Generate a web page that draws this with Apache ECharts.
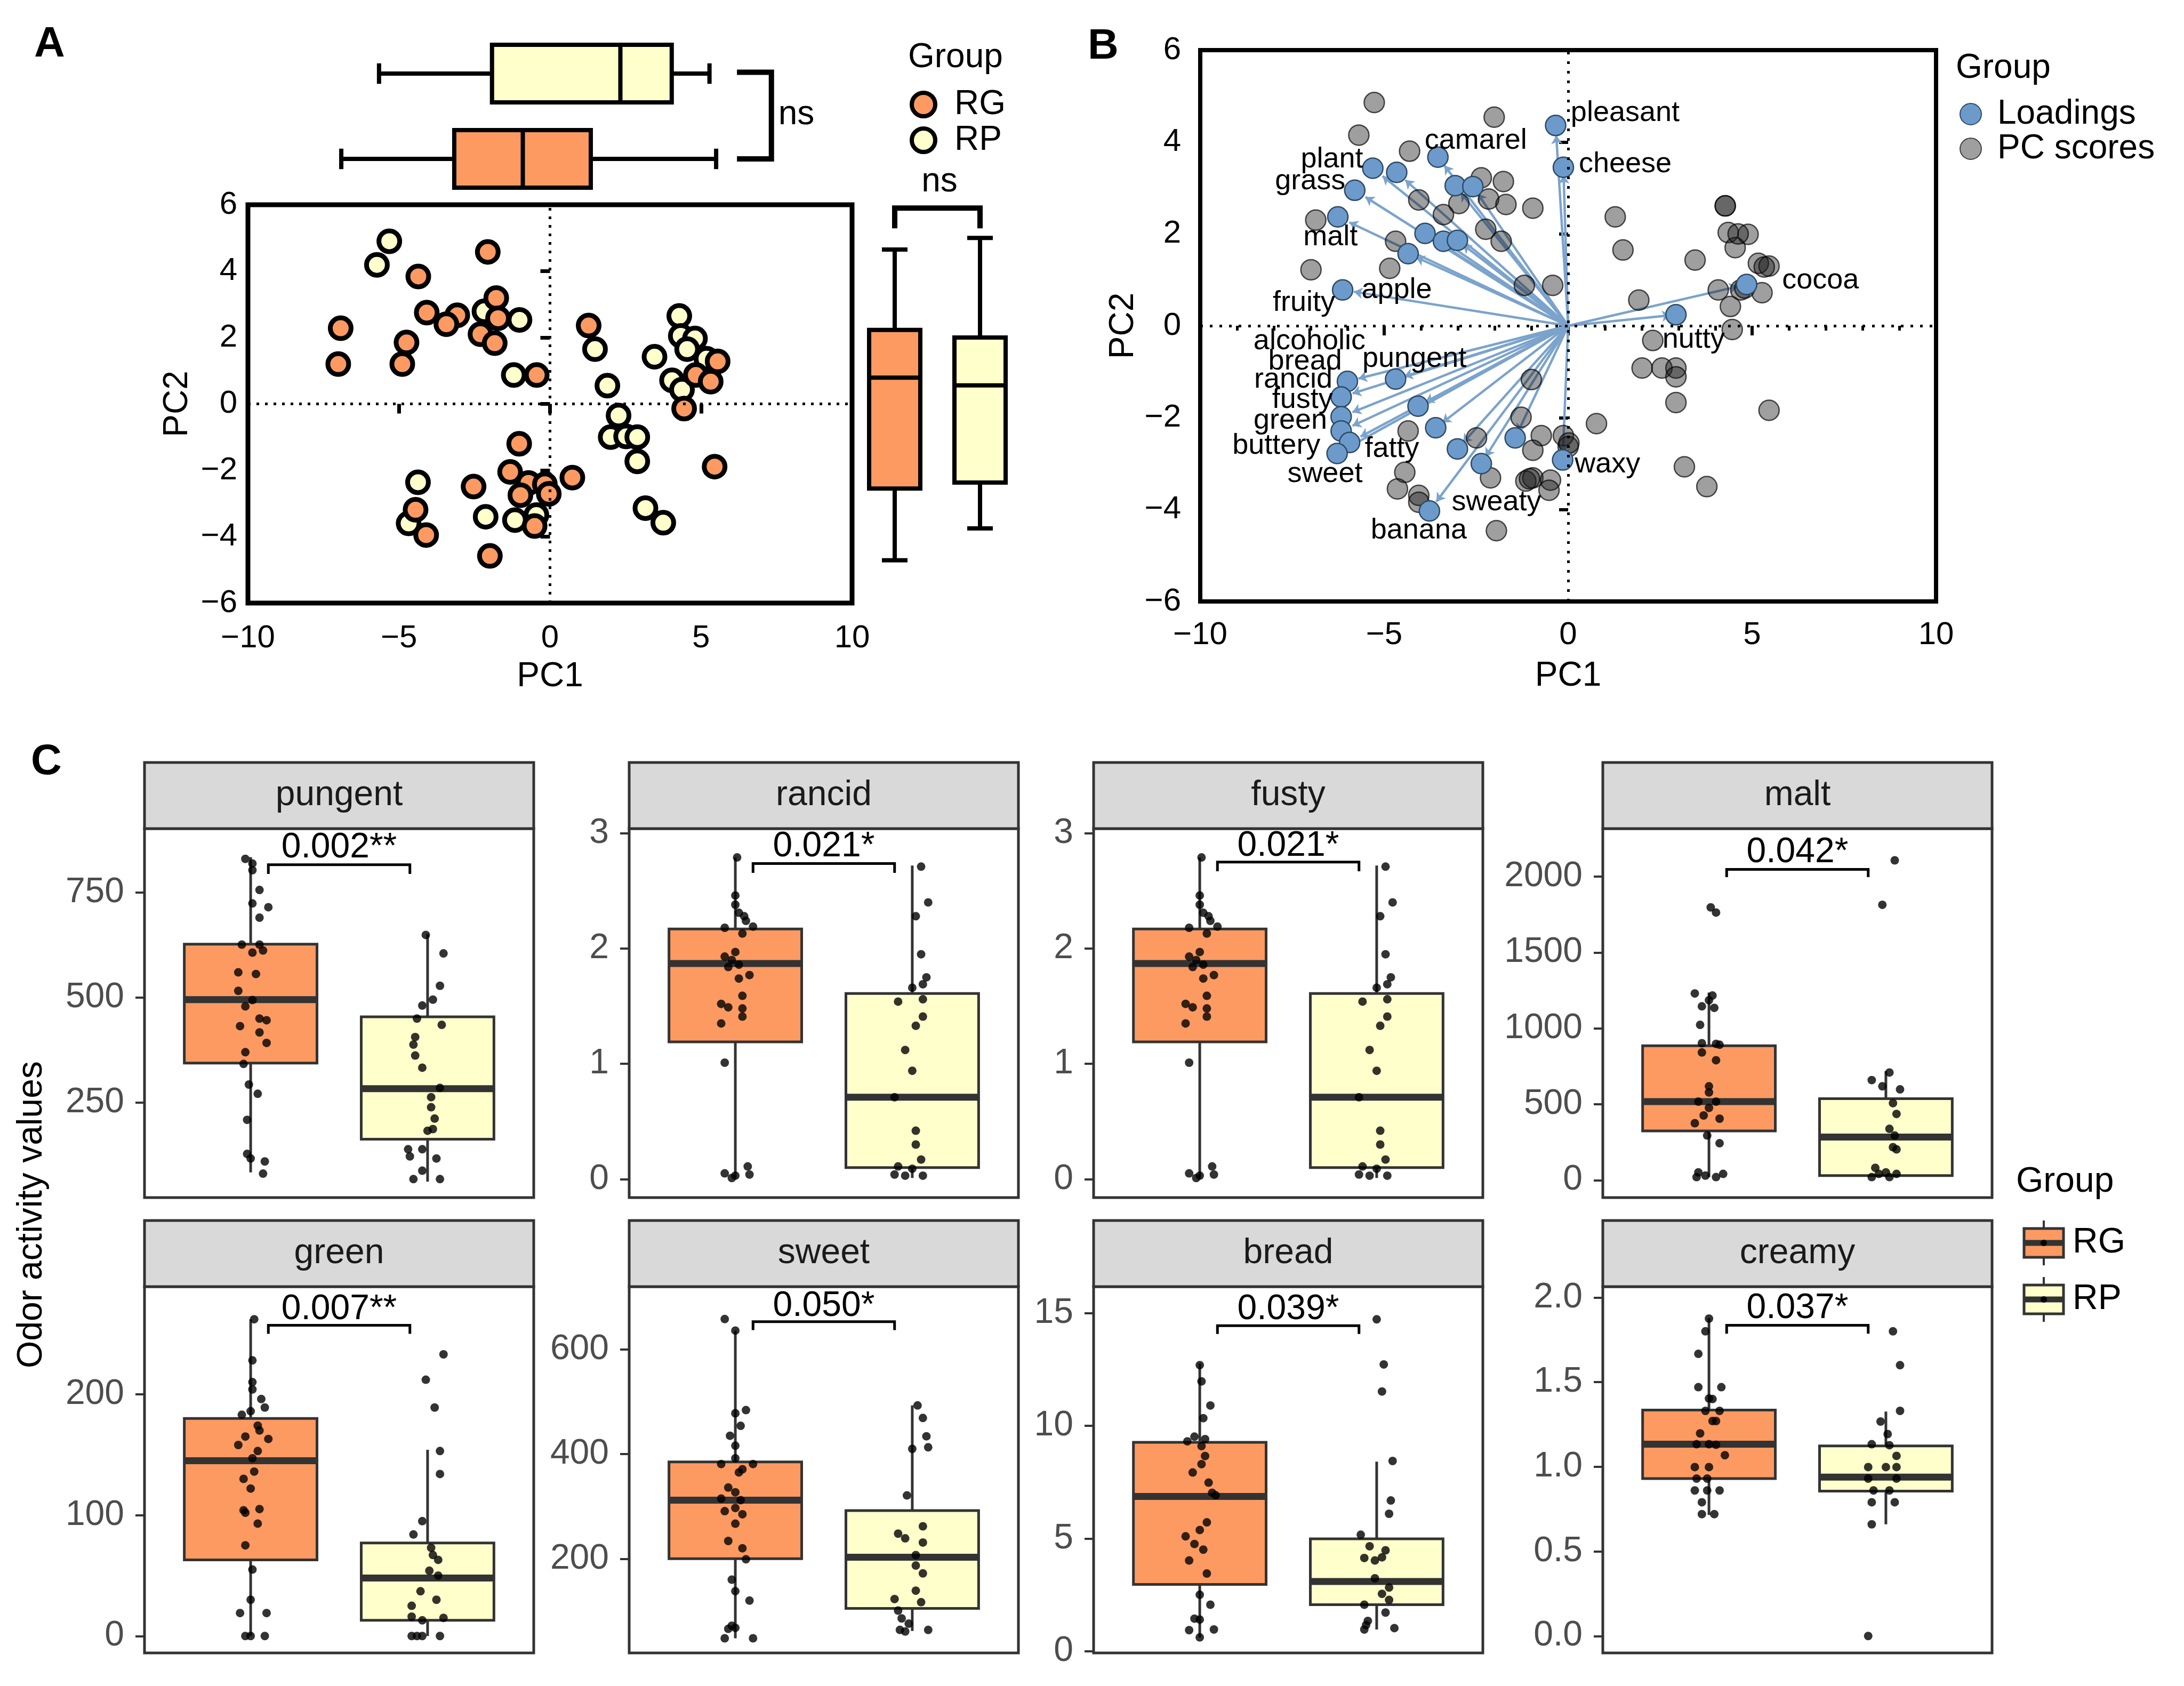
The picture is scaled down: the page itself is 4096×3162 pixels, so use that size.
<!DOCTYPE html>
<html><head><meta charset="utf-8">
<script src="https://cdn.jsdelivr.net/npm/echarts@6/dist/echarts.min.js"></script>
<style>html,body{margin:0;padding:0;background:#fff}#c{width:4096px;height:3162px}</style>
</head><body><div id="c"></div>
<script>
// ================= DATA =================
const groups = ['RG', 'RP'];
// Panel A: PCA scores by group [PC1, PC2]
const pcaRG = [[-2.06,4.58],[-4.36,3.84],[-1.78,3.19],[-4.08,2.75],[-3.07,2.67],[-3.43,2.40],[-1.72,2.58],[-2.30,2.10],[-1.83,1.83],[-6.93,2.28],[-7.01,1.20],[-4.75,1.85],[-4.89,1.20],[-0.44,0.87],[1.28,2.36],[4.83,0.87],[5.32,0.67],[5.55,1.28],[4.44,-0.14],[5.45,-1.89],[-1.02,-1.20],[-1.32,-2.05],[-2.53,-2.49],[-0.71,-2.38],[-0.17,-2.42],[-0.98,-2.75],[-0.04,-2.71],[0.74,-2.22],[-4.45,-3.19],[-4.10,-3.95],[-0.51,-3.68],[-1.99,-4.58]];
const pcaRP = [[-5.32,4.90],[-5.73,4.19],[-2.17,2.79],[-1.01,2.53],[-1.20,0.87],[1.49,1.65],[1.90,0.55],[4.28,2.65],[4.33,2.05],[4.80,1.97],[4.54,1.65],[3.46,1.42],[5.18,1.36],[4.04,0.71],[4.37,0.43],[2.27,-0.35],[2.01,-1.00],[2.52,-0.98],[2.89,-1.00],[2.89,-1.73],[3.16,-3.14],[3.75,-3.58],[-4.37,-2.36],[-4.68,-3.60],[-2.13,-3.40],[-1.16,-3.50],[-0.45,-3.35]];
// marginal box stats [low, q1, median, q3, high]
const pc1BoxRG = [-6.91,-3.17,-0.90,1.35,5.50];
const pc1BoxRP = [-5.66,-1.92,2.33,4.03,5.28];
const pc2BoxRG = [-4.71,-2.55,0.79,2.23,4.65];
const pc2BoxRP = [-3.75,-2.37,0.56,2.00,5.00];
const pcTicksX = [-10,-5,0,5,10];
const pcTicksY = [-6,-4,-2,0,2,4,6];
const nsText = 'ns';

// Panel B: biplot
const loadings = [[-0.34,4.36],[-0.13,3.45],[-3.54,3.67],[-5.31,3.43],[-4.66,3.34],[-5.80,2.95],[-3.07,3.05],[-2.59,3.03],[-6.26,2.37],[-3.89,2.01],[-3.39,1.84],[-3.01,1.86],[-4.35,1.57],[-6.13,0.78],[2.93,0.24],[4.85,0.90],[-6.00,-1.21],[-6.17,-1.55],[-6.17,-1.98],[-6.17,-2.29],[-5.94,-2.54],[-6.28,-2.78],[-4.69,-1.16],[-4.08,-1.75],[-3.60,-2.22],[-3.01,-2.68],[-2.36,-3.00],[-1.44,-2.44],[-0.15,-2.92],[-3.77,-4.03]];
const scores = [[-5.27,4.86],[-2.01,4.54],[-5.69,4.15],[-4.31,3.80],[-2.36,3.22],[-1.76,3.14],[-4.06,2.74],[-2.97,2.66],[-2.16,2.76],[-1.69,2.64],[-0.96,2.56],[-3.39,2.42],[-6.86,2.30],[-2.24,2.10],[-1.82,1.84],[-4.69,1.84],[-6.99,1.22],[-4.85,1.25],[-1.19,0.88],[-0.42,0.88],[1.28,2.37],[1.49,1.65],[3.45,1.43],[1.92,0.56],[4.27,2.61],[4.27,2.61],[4.35,2.03],[4.89,1.99],[4.54,1.70],[4.62,2.00],[5.17,1.36],[5.46,1.30],[5.33,1.28],[4.08,0.78],[4.69,0.78],[4.80,0.82],[5.27,0.72],[4.41,0.42],[4.46,-0.08],[2.30,-0.32],[2.01,-0.92],[2.55,-0.92],[2.93,-0.92],[2.93,-1.11],[2.93,-1.67],[5.46,-1.84],[0.77,-2.13],[3.16,-3.07],[3.77,-3.50],[-1.00,-1.17],[-1.28,-1.99],[-4.35,-2.29],[-2.49,-2.44],[-0.73,-2.39],[-0.96,-2.71],[-0.13,-2.39],[0.00,-2.63],[0.02,-2.55],[-4.44,-3.19],[-4.64,-3.55],[-4.06,-3.69],[-4.06,-3.84],[-2.11,-3.31],[-1.15,-3.38],[-0.96,-3.31],[-1.05,-3.33],[-0.48,-3.36],[-0.52,-3.58],[-1.95,-4.46]];
const loadingLabels = [['pleasant',1.55,4.63],['cheese',1.55,3.51],['camarel',-2.51,4.03],['plant',-6.42,3.62],['grass',-7.01,3.14],['malt',-6.46,1.92],['apple',-4.66,0.78],['fruity',-7.18,0.50],['cocoa',6.86,0.98],['nutty',3.41,-0.30],['alcoholic',-7.03,-0.34],['bread',-7.15,-0.78],['pungent',-4.18,-0.72],['rancid',-7.47,-1.17],['fusty',-7.22,-1.62],['green',-7.55,-2.07],['buttery',-7.93,-2.61],['fatty',-4.79,-2.68],['sweet',-6.61,-3.23],['waxy',1.07,-3.02],['sweaty',-1.95,-3.84],['banana',-4.06,-4.46]];

// Panel C: odor activity values, [jitter offset, value]
const facetNames = ['pungent','rancid','fusty','malt','green','sweet','bread','creamy'];
const pungentRG = [[-0.03,830],[0.01,819],[0.01,803],[0.05,756],[0.01,724],[0.10,715],[0.05,690],[-0.05,626],[0.05,626],[0.01,607],[0.07,612],[-0.07,560],[0.03,556],[-0.07,516],[0.01,494],[-0.03,479],[0.05,450],[-0.06,432],[0.09,446],[0.05,417],[0.09,392],[-0.03,370],[-0.04,342],[-0.01,293],[0.04,271],[-0.02,209],[-0.02,128],[0.00,117],[0.08,110],[0.07,81]];
const pungentRP = [[-0.01,649],[0.09,605],[0.07,528],[0.03,495],[-0.03,481],[-0.06,450],[0.08,435],[-0.07,406],[-0.08,388],[-0.07,362],[-0.03,333],[0.07,285],[0.02,263],[0.02,239],[0.04,212],[0.03,187],[0.00,183],[-0.11,139],[-0.03,139],[-0.10,122],[0.05,117],[-0.03,88],[-0.08,68],[0.07,68]];
const rancidRG = [[0.01,2.79],[0.00,2.46],[0.00,2.38],[0.02,2.31],[0.05,2.28],[0.06,2.24],[-0.06,2.18],[0.10,2.19],[0.04,2.13],[0.00,1.97],[-0.06,1.93],[-0.02,1.90],[0.02,1.86],[-0.04,1.84],[0.08,1.77],[0.02,1.74],[0.04,1.59],[-0.08,1.52],[-0.04,1.49],[0.04,1.48],[0.04,1.41],[-0.08,1.35],[-0.06,1.01],[-0.06,0.05],[0.00,0.03],[0.07,0.11],[-0.02,0.01],[0.08,0.04]];
const rancidRP = [[0.05,2.71],[0.09,2.40],[0.02,2.28],[0.05,1.95],[0.08,1.75],[0.06,1.69],[0.00,1.66],[-0.08,1.54],[0.06,1.56],[0.06,1.41],[0.02,1.33],[-0.04,1.12],[0.00,0.94],[-0.10,0.71],[0.02,0.42],[0.02,0.30],[0.05,0.17],[-0.08,0.11],[0.00,0.09],[-0.04,0.03],[-0.10,0.04],[0.06,0.03]];
const fustyRG = [[0.01,2.79],[0.00,2.46],[0.00,2.38],[0.02,2.31],[0.05,2.28],[0.06,2.24],[-0.06,2.18],[0.10,2.19],[0.04,2.13],[0.00,1.97],[-0.06,1.93],[-0.02,1.90],[0.02,1.86],[-0.04,1.84],[0.08,1.77],[0.02,1.74],[0.04,1.59],[-0.08,1.52],[-0.04,1.49],[0.04,1.48],[0.04,1.41],[-0.08,1.35],[-0.06,1.01],[-0.06,0.05],[0.00,0.03],[0.07,0.11],[-0.02,0.01],[0.08,0.04]];
const fustyRP = [[0.05,2.71],[0.09,2.40],[0.02,2.28],[0.05,1.95],[0.08,1.75],[0.06,1.69],[0.00,1.66],[-0.08,1.54],[0.06,1.56],[0.06,1.41],[0.02,1.33],[-0.04,1.12],[0.00,0.94],[-0.10,0.71],[0.02,0.42],[0.02,0.30],[0.05,0.17],[-0.08,0.11],[0.00,0.09],[-0.04,0.03],[-0.10,0.04],[0.06,0.03]];
const maltRG = [[0.04,1763],[0.01,1797],[-0.08,1230],[0.02,1216],[0.00,1185],[-0.04,1145],[0.03,1135],[-0.05,1023],[-0.04,902],[0.04,898],[0.06,892],[-0.04,841],[0.04,790],[0.00,618],[0.00,578],[-0.06,517],[0.04,517],[0.00,476],[-0.03,426],[0.06,405],[-0.08,375],[-0.01,294],[0.06,243],[-0.06,51],[-0.02,30],[0.04,20],[0.08,41],[-0.07,20]];
const maltRP = [[0.05,2107],[-0.02,1814],[0.02,709],[-0.08,659],[-0.02,618],[0.08,598],[0.04,507],[0.06,436],[0.02,338],[0.05,294],[0.04,217],[0.06,203],[-0.06,81],[0.00,51],[-0.04,41],[0.06,41],[-0.08,20],[0.02,20]];
const greenRG = [[0.02,262],[0.01,228],[0.01,210],[0.01,204],[0.06,196],[0.08,189],[0.00,186],[-0.05,183],[0.04,174],[0.05,170],[-0.03,165],[0.10,163],[-0.07,158],[0.04,153],[0.01,147],[0.02,136],[-0.04,130],[0.00,122],[-0.04,104],[0.05,105],[-0.03,102],[0.04,93],[-0.03,75],[0.01,55],[0.00,30],[-0.06,19],[0.09,19],[-0.03,0],[0.00,0],[0.08,0]];
const greenRP = [[0.09,233],[-0.01,212],[0.04,189],[0.07,153],[0.07,134],[-0.03,95],[-0.08,84],[0.02,73],[0.03,67],[0.06,63],[0.01,54],[0.06,50],[-0.04,37],[0.05,30],[-0.09,25],[-0.09,16],[-0.03,13],[0.09,15],[-0.09,0],[-0.06,0],[-0.03,0],[0.07,0]];
const sweetRG = [[-0.06,658],[0.00,636],[0.06,484],[0.00,478],[0.03,454],[-0.03,435],[0.00,416],[0.00,392],[-0.08,381],[0.10,381],[0.04,371],[0.02,365],[-0.04,336],[0.00,327],[-0.08,315],[0.03,312],[0.00,297],[-0.06,291],[0.04,285],[0.00,267],[-0.04,234],[0.04,220],[0.06,199],[-0.02,160],[0.00,138],[0.08,120],[-0.02,72],[-0.04,66],[0.00,68],[-0.06,48],[0.10,48]];
const sweetRP = [[0.03,493],[0.06,469],[0.08,434],[0.00,410],[0.09,413],[-0.03,321],[0.06,262],[-0.08,248],[-0.04,239],[0.06,231],[0.02,207],[0.02,187],[0.06,172],[0.02,139],[-0.10,123],[0.05,117],[-0.08,101],[-0.06,86],[-0.02,76],[-0.07,64],[0.09,64],[-0.04,61]];
const breadRG = [[0.00,12.69],[0.01,11.97],[0.06,10.90],[0.02,10.34],[-0.03,9.52],[0.03,9.41],[-0.07,9.31],[0.01,9.10],[0.03,8.66],[0.01,8.30],[-0.04,7.93],[0.05,7.48],[0.07,7.03],[0.09,6.92],[0.04,5.72],[0.00,5.38],[-0.08,5.10],[-0.03,4.76],[0.02,4.51],[-0.06,4.03],[0.04,3.45],[0.00,2.51],[0.06,2.07],[-0.03,1.45],[0.00,1.41],[-0.06,0.94],[0.08,0.97],[0.00,0.62]];
const breadRP = [[0.00,14.72],[0.04,12.72],[0.03,11.52],[0.09,8.44],[0.08,6.69],[0.07,6.10],[-0.09,5.17],[-0.04,4.66],[0.05,4.48],[-0.07,4.14],[0.03,4.17],[-0.01,4.03],[-0.01,3.24],[0.07,2.83],[0.03,2.55],[0.07,2.28],[-0.07,2.07],[0.05,1.72],[-0.05,1.35],[-0.06,1.17],[0.10,1.03],[-0.07,0.97]];
const creamyRG = [[0.00,1.875],[-0.02,1.80],[-0.06,1.667],[-0.06,1.47],[0.07,1.47],[0.00,1.403],[0.02,1.40],[-0.02,1.33],[0.06,1.33],[0.02,1.27],[0.04,1.27],[-0.05,1.197],[-0.07,1.133],[0.00,1.133],[0.04,1.13],[0.09,1.068],[-0.08,0.998],[0.00,0.998],[-0.07,0.93],[-0.01,0.93],[-0.08,0.86],[-0.01,0.86],[0.06,0.86],[-0.04,0.79],[-0.04,0.72],[0.03,0.72]];
const creamyRP = [[0.04,1.80],[0.08,1.60],[0.08,1.33],[-0.03,1.267],[0.01,1.193],[-0.08,1.133],[0.02,1.127],[0.06,1.064],[-0.10,0.998],[0.00,0.998],[0.06,0.998],[-0.10,0.93],[0.06,0.93],[-0.07,0.86],[0.02,0.86],[0.05,0.79],[-0.08,0.79],[-0.08,0.66],[-0.10,0.0]];
// box stats [low, q1, median, q3, high]
const boxRG = [[84,344,495,627,834],[0.01,1.19,1.87,2.17,2.79],[0.01,1.19,1.87,2.17,2.79],[20,324,517,885,1236],[0,63,145,180,262],[48,200,312,385,636],[0.62,2.97,6.87,9.27,12.76],[0.715,0.93,1.133,1.335,1.878]];
const boxRP = [[62,163,283,454,651],[0.01,0.10,0.71,1.61,2.72],[0.01,0.10,0.71,1.61,2.72],[20,30,284,537,719],[0,13,48,77,154],[62,105,203,292,493],[0.97,2.07,3.10,4.99,8.41],[0.66,0.856,0.939,1.123,1.326]];
// p-value annotations
const pTexts = ['0.002**','0.021*','0.021*','0.042*','0.007**','0.050*','0.039*','0.037*'];
const pBarY = [816,2.737,2.75,2047,257,653,14.44,1.836];
const pTickY = [794,2.656,2.67,1996,250,637,14.07,1.786];
const pLabelY = [856,2.885,2.89,2158,270,683,15.17,1.934];
// axis ranges and tick labels per facet
const facetYMin = [24,-0.16,-0.16,-115,-14,20,-0.07,-0.10];
const facetYMax = [902,3.04,3.04,2316,289,720,16.17,2.064];
const facetTicks = [[250,500,750],[0,1,2,3],[0,1,2,3],[0,500,1000,1500,2000],[0,100,200],[200,400,600],[0,5,10,15],[0,0.5,1,1.5,2]];

// ================= STYLE / LAYOUT =================
const F = "'Liberation Sans', Arial, Helvetica, sans-serif";
const COL = { RG: '#FC9A62', RP: '#FFFFCC' };
const minus = v => String(v).replace('-', '\u2212');
const chart = echarts.init(document.getElementById('c'), null, { renderer: 'canvas' });

const grids = [], xAxes = [], yAxes = [], series = [];
function hiddenAxes(g, xr, yr) {
  xAxes.push({ gridIndex: g, type: 'value', min: xr[0], max: xr[1], show: false });
  yAxes.push({ gridIndex: g, type: 'value', min: yr[0], max: yr[1], show: false });
}

function makeBoxRender(horizontal, halfW, capHalf, lw, medLw, stroke, fills) {
  return (params, api) => {
    const pos = api.value(0), lo = api.value(1), q1 = api.value(2), md = api.value(3), q3 = api.value(4), hi = api.value(5), g = api.value(6);
    const P = (p, v) => horizontal ? api.coord([v, p]) : api.coord([p, v]);
    const seg = (a, b, w) => ({ type: 'line', shape: { x1: a[0], y1: a[1], x2: b[0], y2: b[1] }, style: { stroke, lineWidth: w } });
    const ch = [];
    ch.push(seg(P(pos, lo), P(pos, q1), lw));
    ch.push(seg(P(pos, q3), P(pos, hi), lw));
    if (capHalf) {
      ch.push(seg(P(pos - capHalf, lo), P(pos + capHalf, lo), lw));
      ch.push(seg(P(pos - capHalf, hi), P(pos + capHalf, hi), lw));
    }
    const a = P(pos - halfW, q1), b = P(pos + halfW, q3);
    ch.push({ type: 'rect', shape: { x: Math.min(a[0], b[0]), y: Math.min(a[1], b[1]), width: Math.abs(a[0] - b[0]), height: Math.abs(a[1] - b[1]) }, style: { fill: fills[g], stroke, lineWidth: lw } });
    const m1 = P(pos - halfW, md), m2 = P(pos + halfW, md);
    ch.push(seg(m1, m2, medLw));
    return { type: 'group', children: ch };
  };
}
const fillsArr = [COL.RG, COL.RP];

// ---------- Panel A main scatter (grid 0) ----------
grids.push({ left: 465, top: 384, width: 1133, height: 747, show: true, borderColor: '#000', borderWidth: 9, backgroundColor: 'rgba(0,0,0,0)' });
xAxes.push({ gridIndex: 0, type: 'value', min: -10, max: 10,
  axisLine: { show: false }, splitLine: { show: false },
  axisTick: { show: true, length: 18, lineStyle: { color: '#000', width: 7 }, customValues: pcTicksX },
  axisLabel: { fontSize: 60, color: '#000', fontFamily: F, margin: 36, formatter: minus, customValues: pcTicksX },
  name: 'PC1', nameLocation: 'middle', nameGap: 106, nameTextStyle: { fontSize: 64, fontFamily: F, color: '#000' } });
yAxes.push({ gridIndex: 0, type: 'value', min: -6, max: 6,
  axisLine: { show: false }, splitLine: { show: false },
  axisTick: { show: true, length: 18, lineStyle: { color: '#000', width: 7 }, customValues: pcTicksY },
  axisLabel: { fontSize: 60, color: '#000', fontFamily: F, margin: 20, formatter: minus, customValues: pcTicksY },
  name: 'PC2', nameLocation: 'middle', nameRotate: 90, nameGap: 100, nameTextStyle: { fontSize: 64, fontFamily: F, color: '#000' } });
series.push({ type: 'scatter', xAxisIndex: 0, yAxisIndex: 0, data: [], silent: true, z: 1,
  markLine: { silent: true, symbol: ['none', 'none'], label: { show: false }, lineStyle: { color: '#000', width: 5, type: [5, 11] }, data: [{ xAxis: 0 }, { yAxis: 0 }] } });
series.push({ name: 'RP', type: 'scatter', xAxisIndex: 0, yAxisIndex: 0, data: pcaRP, symbolSize: 39, z: 3,
  itemStyle: { color: COL.RP, borderColor: '#000', borderWidth: 9, opacity: 1 } });
series.push({ name: 'RG', type: 'scatter', xAxisIndex: 0, yAxisIndex: 0, data: pcaRG, symbolSize: 39, z: 3,
  itemStyle: { color: COL.RG, borderColor: '#000', borderWidth: 9, opacity: 1 } });

// ---------- Panel A top boxes (grid 1) ----------
grids.push({ left: 465, top: 58, width: 1133, height: 320 });
hiddenAxes(1, [-10, 10], [0, 4]);
series.push({ type: 'custom', xAxisIndex: 1, yAxisIndex: 1, silent: true,
  renderItem: makeBoxRender(true, 0.675, 0.24, 8, 8, '#000', fillsArr),
  data: [[1].concat(pc1BoxRG, [0]), [3].concat(pc1BoxRP, [1])] });
series.push({ type: 'custom', xAxisIndex: 1, yAxisIndex: 1, silent: true,
  renderItem: (params, api) => {
    const xt = api.value(0), xv = api.value(1), y1 = api.value(2), y2 = api.value(3);
    const pts = [api.coord([xt, y1]), api.coord([xv, y1]), api.coord([xv, y2]), api.coord([xt, y2])];
    const t = api.coord([api.value(4), api.value(5)]);
    return { type: 'group', children: [
      { type: 'polyline', shape: { points: pts }, style: { stroke: '#000', lineWidth: 10, fill: null } },
      { type: 'text', style: { text: nsText, x: t[0], y: t[1], align: 'left', verticalAlign: 'middle', fontSize: 64, fontFamily: F, fill: '#000' } }
    ] };
  },
  data: [[6.19, 7.33, 3.03, 1.0, 7.56, 2.03]] });

// ---------- Panel A right boxes (grid 2) ----------
grids.push({ left: 1598, top: 384, width: 320, height: 747 });
hiddenAxes(2, [0, 4], [-6, 6]);
series.push({ type: 'custom', xAxisIndex: 2, yAxisIndex: 2, silent: true,
  renderItem: makeBoxRender(false, 0.6, 0.3, 8, 8, '#000', fillsArr),
  data: [[1].concat(pc2BoxRG, [0]), [3].concat(pc2BoxRP, [1])] });
series.push({ type: 'custom', xAxisIndex: 2, yAxisIndex: 2, silent: true,
  renderItem: (params, api) => {
    const x1 = api.value(0), x2 = api.value(1), yb = api.value(2), yt = api.value(3);
    const pts = [api.coord([x1, yt]), api.coord([x1, yb]), api.coord([x2, yb]), api.coord([x2, yt])];
    const t = api.coord([api.value(4), api.value(5)]);
    return { type: 'group', children: [
      { type: 'polyline', shape: { points: pts }, style: { stroke: '#000', lineWidth: 10, fill: null } },
      { type: 'text', style: { text: nsText, x: t[0], y: t[1], align: 'center', verticalAlign: 'middle', fontSize: 64, fontFamily: F, fill: '#000' } }
    ] };
  },
  data: [[1, 3, 5.9, 5.29, 2.05, 6.69]] });

// ---------- Panel B biplot (grid 3) ----------
grids.push({ left: 2251, top: 94, width: 1380, height: 1034, show: true, borderColor: '#000', borderWidth: 8, backgroundColor: 'rgba(0,0,0,0)' });
xAxes.push({ gridIndex: 3, type: 'value', min: -10, max: 10, interval: 5,
  axisLine: { show: false }, splitLine: { show: false },
  axisTick: { show: true, length: 18, lineStyle: { color: '#000', width: 6 } },
  minorTick: { show: true, splitNumber: 5, length: 9, lineStyle: { color: '#000', width: 5 } },
  axisLabel: { fontSize: 60, color: '#000', fontFamily: F, margin: 33, formatter: minus },
  name: 'PC1', nameLocation: 'middle', nameGap: 108, nameTextStyle: { fontSize: 64, fontFamily: F, color: '#000' } });
yAxes.push({ gridIndex: 3, type: 'value', min: -6, max: 6, interval: 2,
  axisLine: { show: false }, splitLine: { show: false },
  axisTick: { show: true, length: 17, lineStyle: { color: '#000', width: 6 } },
  axisLabel: { fontSize: 60, color: '#000', fontFamily: F, margin: 36, formatter: minus },
  name: 'PC2', nameLocation: 'middle', nameRotate: 90, nameGap: 112, nameTextStyle: { fontSize: 64, fontFamily: F, color: '#000' } });
series.push({ type: 'scatter', xAxisIndex: 3, yAxisIndex: 3, data: [], silent: true, z: 1,
  markLine: { silent: true, symbol: ['none', 'none'], label: { show: false }, lineStyle: { color: '#000', width: 5, type: [5, 13] }, data: [{ xAxis: 0 }, { yAxis: 0 }] } });
series.push({ type: 'lines', coordinateSystem: 'cartesian2d', xAxisIndex: 3, yAxisIndex: 3, silent: true, z: 2,
  data: loadings.map(l => ({ coords: [[0, 0], [l[0] * 0.95, l[1] * 0.95]] })),
  lineStyle: { color: '#7BA3CC', width: 4.5, opacity: 1 }, symbol: ['none', 'arrow'], symbolSize: 16 });
series.push({ name: 'PC scores', type: 'scatter', xAxisIndex: 3, yAxisIndex: 3, data: scores, symbolSize: 38, z: 3,
  itemStyle: { color: 'rgba(25,25,25,0.52)', borderColor: 'rgba(0,0,0,0.85)', borderWidth: 2.5 } });
series.push({ name: 'Loadings', type: 'scatter', xAxisIndex: 3, yAxisIndex: 3, data: loadings, symbolSize: 38, z: 4,
  itemStyle: { color: '#6C9BCB', borderColor: '#2E4A66', borderWidth: 2.5, opacity: 1 } });
series.push({ type: 'custom', xAxisIndex: 3, yAxisIndex: 3, silent: true, z: 5,
  renderItem: (params, api) => {
    const p = api.coord([api.value(1), api.value(2)]);
    return { type: 'text', style: { text: loadingLabels[params.dataIndex][0], x: p[0], y: p[1], align: 'center', verticalAlign: 'middle', fontSize: 54, fontFamily: F, fill: '#000' } };
  },
  data: loadingLabels.map(l => [0, l[1], l[2]]) });

// ---------- Panel C facets (grids 4..11) ----------
const facetRG = [pungentRG, rancidRG, fustyRG, maltRG, greenRG, sweetRG, breadRG, creamyRG];
const facetRP = [pungentRP, rancidRP, fustyRP, maltRP, greenRP, sweetRP, breadRP, creamyRP];
const cLefts = [271, 1180, 2051, 3006], cTops = [1554, 2413], cHeights = [692, 687], cW = 730, stripH = 124;
facetNames.forEach((name, i) => {
  const g = 4 + i, r = Math.floor(i / 4), c = i % 4;
  grids.push({ left: cLefts[c], top: cTops[r], width: cW, height: cHeights[r], show: true, borderColor: '#333333', borderWidth: 5, backgroundColor: 'rgba(0,0,0,0)' });
  xAxes.push({ gridIndex: g, type: 'value', min: 0.4, max: 2.6, show: false });
  yAxes.push({ gridIndex: g, type: 'value', min: facetYMin[i], max: facetYMax[i],
    axisLine: { show: false }, splitLine: { show: false },
    axisTick: { show: true, length: 17, lineStyle: { color: '#333333', width: 4 }, customValues: facetTicks[i] },
    axisLabel: { fontSize: 66, color: '#4D4D4D', fontFamily: F, margin: 38, customValues: facetTicks[i],
      formatter: v => (name === 'creamy' ? Number(v).toFixed(1) : String(v)) } });
  // strip
  series.push({ type: 'custom', xAxisIndex: g, yAxisIndex: g, silent: true, z: 6,
    renderItem: (params, api) => {
      const cs = params.coordSys;
      return { type: 'group', children: [
        { type: 'rect', shape: { x: cs.x, y: cs.y - stripH, width: cs.width, height: stripH }, style: { fill: '#D9D9D9', stroke: '#333333', lineWidth: 5 } },
        { type: 'text', style: { text: name, x: cs.x + cs.width / 2, y: cs.y - stripH / 2, align: 'center', verticalAlign: 'middle', fontSize: 66, fontFamily: F, fill: '#1A1A1A' } }
      ] };
    },
    data: [[1, 0]] });
  // boxes
  series.push({ name: name + ' box', type: 'custom', xAxisIndex: g, yAxisIndex: g, silent: true, z: 2,
    renderItem: makeBoxRender(false, 0.375, 0, 5, 13, '#333333', fillsArr),
    data: [[1].concat(boxRG[i], [0]), [2].concat(boxRP[i], [1])] });
  // jitter points
  series.push({ name: name + ' RG points', type: 'scatter', xAxisIndex: g, yAxisIndex: g, symbolSize: 16, z: 3,
    itemStyle: { color: '#000' }, data: facetRG[i].map(d => [1 + d[0], d[1]]) });
  series.push({ name: name + ' RP points', type: 'scatter', xAxisIndex: g, yAxisIndex: g, symbolSize: 16, z: 3,
    itemStyle: { color: '#000' }, data: facetRP[i].map(d => [2 + d[0], d[1]]) });
  // p-value bracket
  series.push({ type: 'custom', xAxisIndex: g, yAxisIndex: g, silent: true, z: 4,
    renderItem: (params, api) => {
      const x1 = api.value(0), x2 = api.value(1), yb = api.value(2), yt = api.value(3), yl = api.value(4);
      const pts = [api.coord([x1, yt]), api.coord([x1, yb]), api.coord([x2, yb]), api.coord([x2, yt])];
      const l = api.coord([(x1 + x2) / 2, yl]);
      return { type: 'group', children: [
        { type: 'polyline', shape: { points: pts }, style: { stroke: '#000', lineWidth: 5, fill: null } },
        { type: 'text', style: { text: pTexts[i], x: l[0], y: l[1], align: 'center', verticalAlign: 'middle', fontSize: 66, fontFamily: F, fill: '#000' } }
      ] };
    },
    data: [[1.1, 1.9, pBarY[i], pTickY[i], pLabelY[i]]] });
});

// ---------- legend keys for panel C ----------
function cKey(cx, cy, fill) {
  return [
    { type: 'line', shape: { x1: cx, y1: cy - 42, x2: cx, y2: cy + 42 }, style: { stroke: '#333333', lineWidth: 4 } },
    { type: 'rect', shape: { x: cx - 37, y: cy - 27, width: 74, height: 54 }, style: { fill, stroke: '#333333', lineWidth: 5 } },
    { type: 'line', shape: { x1: cx - 37, y1: cy, x2: cx + 37, y2: cy }, style: { stroke: '#333333', lineWidth: 11 } },
    { type: 'circle', shape: { cx, cy, r: 6 }, style: { fill: '#000' } }
  ];
}
const txt = (text, x, y, size, opts = {}) => ({ type: 'text', x, y, rotation: opts.rot || 0,
  style: { text, fontSize: size, fontFamily: F, fontWeight: opts.bold ? 'bold' : 'normal', fill: opts.fill || '#000', align: opts.align || 'left', verticalAlign: 'middle' } });

const graphic = [
  txt('A', 64, 84, 80, { bold: true }),
  txt('B', 2040, 88, 80, { bold: true }),
  txt('C', 58, 1430, 80, { bold: true }),
  txt('Group', 1703, 108, 64),
  txt('Group', 3668, 128, 64),
  txt('Group', 3781, 2217, 66),
  txt('Odor activity values', 60, 2278, 66, { rot: Math.PI / 2, align: 'center' }),
  txt('RG', 3887, 2331, 66),
  txt('RP', 3887, 2437, 66)
].concat(cKey(3833, 2331, COL.RG), cKey(3833, 2437, COL.RP));

chart.setOption({
  animation: false,
  backgroundColor: '#fff',
  grid: grids, xAxis: xAxes, yAxis: yAxes, series,
  legend: [
    { data: groups, orient: 'vertical', left: 1701, top: 159, itemWidth: 44, itemHeight: 44, itemGap: 3, selectedMode: false,
      icon: 'circle', itemStyle: { borderColor: '#000', borderWidth: 8 },
      textStyle: { fontSize: 64, fontFamily: F, color: '#000', padding: [0, 0, 0, 31] } },
    { data: ['Loadings', 'PC scores'], orient: 'vertical', left: 3670, top: 177, itemWidth: 40, itemHeight: 40, itemGap: 1, selectedMode: false,
      icon: 'circle',
      textStyle: { fontSize: 64, fontFamily: F, color: '#000', padding: [0, 0, 0, 25] } }
  ],
  graphic
});
</script></body></html>
